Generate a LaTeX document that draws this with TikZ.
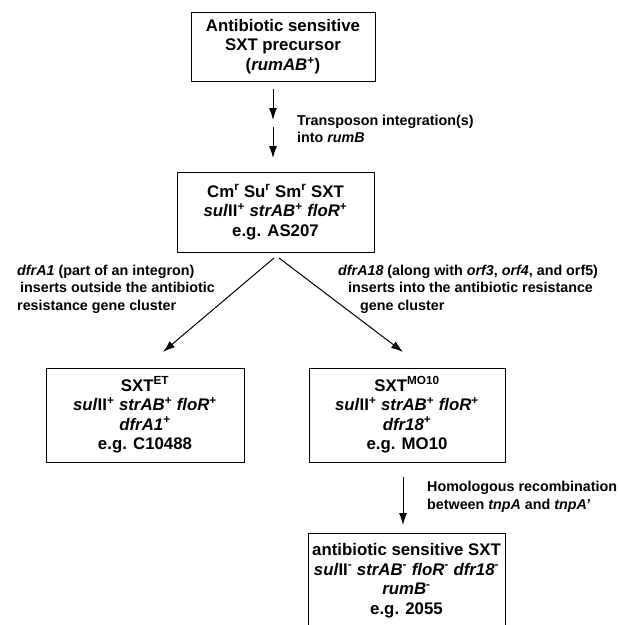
\documentclass[tikz,border=0pt]{standalone}
\usepackage{fontspec}
\setmainfont{Liberation Sans}
\usetikzlibrary{arrows.meta}

\tikzset{
  box/.style={draw, line width=1pt, align=center, inner sep=0pt,
    font=\bfseries\fontsize{16.8}{19.5}\selectfont},
  note/.style={anchor=west, align=left, inner sep=0pt,
    font=\bfseries\fontsize{14.3}{17.5}\selectfont},
  arr/.style={-{Latex[length=12pt,width=8pt]}, line width=1pt}
}
\newcommand{\up}[1]{\textsuperscript{#1}}

\begin{document}
\begin{tikzpicture}[x=1pt, y=-1pt]
\useasboundingbox (0,0) rectangle (620,625);

\draw (283,46.5) node[box, minimum width=184, minimum height=69] (0)
  {Antibiotic sensitive\\SXT precursor\\(\textit{rumAB}\up{+})};
\draw (275.5,212) node[box, minimum width=197, minimum height=80] (1)
  {Cm\up{r} Su\up{r} Sm\up{r} SXT\\\textit{sul}II\up{+} \textit{strAB}\up{+} \textit{floR}\up{+}\\e.g. AS207};
\draw (145,415) node[box, minimum width=198, minimum height=94] (2)
  {SXT\up{ET}\\\textit{sul}II\up{+} \textit{strAB}\up{+} \textit{floR}\up{+}\\\textit{dfrA1}\up{+}\\e.g. C10488};
\draw (407,415) node[box, minimum width=196, minimum height=94] (3)
  {SXT\up{MO10}\\\textit{sul}II\up{+} \textit{strAB}\up{+} \textit{floR}\up{+}\\\textit{dfr18}\up{+}\\e.g. MO10};
\draw (406.5,580.5) node[box, minimum width=197, minimum height=95] (4)
  {antibiotic sensitive SXT\\\textit{sul}II\up{-} \textit{strAB}\up{-} \textit{floR}\up{-} \textit{dfr18}\up{-}\\\textit{rumB}\up{-}\\e.g. 2055};

% step labels
\draw (297,129) node[note] (t1) {Transposon integration(s)\\into \textit{rumB}};
\draw (17,289) node[note] (t2) {\textit{dfrA1} (part of an integron)\\\hspace*{3pt}inserts outside the antibiotic\\resistance gene cluster};
\draw (338,289) node[note] (t3) {\textit{dfrA18} (along with \textit{orf3}, \textit{orf4}, and orf5)\\\hspace*{10pt}inserts into the antibiotic resistance\\\hspace*{22pt}gene cluster};
\draw (427,497) node[note] (t4) {Homologous recombination\\between \textit{tnpA} and \textit{tnpA'}};

\coordinate (a0) at (273,89);
\coordinate (a1) at (273,120);
\coordinate (a2) at (273,127);
\coordinate (a3) at (273,158);
\coordinate (b0) at (274,258);
\coordinate (b1) at (163,352);
\coordinate (c0) at (279,258);
\coordinate (c1) at (403,352);
\coordinate (d0) at (403,477);
\coordinate (d1) at (403,525);

\draw [arr] (a0) to (a1);
\draw [arr] (a2) to (a3);
\draw [arr] (b0) to (b1);
\draw [arr] (c0) to (c1);
\draw [arr] (d0) to (d1);

\end{tikzpicture}
\end{document}
